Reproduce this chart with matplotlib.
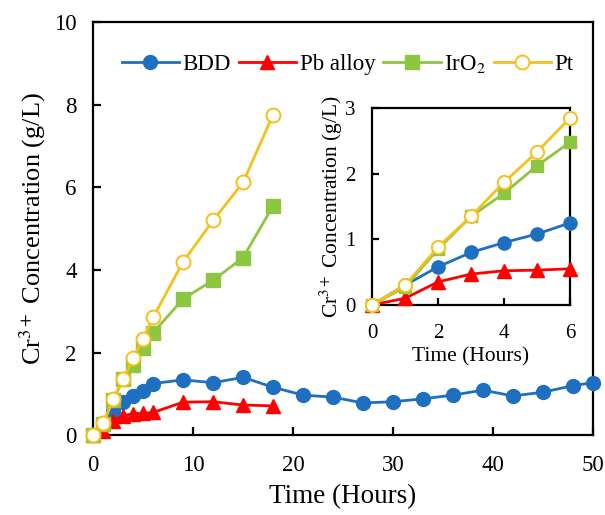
import numpy as np
import matplotlib.pyplot as plt

plt.rcParams['font.family'] = ['Liberation Serif', 'DejaVu Serif']
plt.rcParams['mathtext.fontset'] = 'stix'

# data
t_bdd = [0, 1, 2, 3, 4, 5, 6, 9, 12, 15, 18, 21, 24, 27, 30, 33, 36, 39, 42, 45, 48, 50]
c_bdd = [0, 0.30, 0.58, 0.80, 0.95, 1.08, 1.25, 1.34, 1.27, 1.40, 1.16, 0.97, 0.92,
         0.78, 0.81, 0.88, 0.97, 1.09, 0.95, 1.04, 1.20, 1.27]
t_short = [0, 1, 2, 3, 4, 5, 6, 9, 12, 15, 18]
c_pb = [0, 0.10, 0.35, 0.47, 0.52, 0.53, 0.55, 0.80, 0.81, 0.73, 0.71]
c_iro2 = [0, 0.27, 0.85, 1.35, 1.70, 2.12, 2.48, 3.30, 3.75, 4.30, 5.55]
c_pt = [0, 0.30, 0.88, 1.35, 1.87, 2.33, 2.85, 4.20, 5.20, 6.12, 7.76]

blue = '#1F6FC0'
red = '#FF0000'
green = '#8DC63F'
gold = '#F5C01A'

fig = plt.figure(figsize=(6.05, 5.15), dpi=100)
ax = fig.add_axes([0.154, 0.155, 0.826, 0.802])


def draw(a, n, ms):
    a.plot(t_bdd[:n], c_bdd[:n], '-o', color=blue, lw=2, ms=ms, label='BDD', clip_on=False, zorder=3)
    m = min(n, len(t_short))
    a.plot(t_short[:m], c_pb[:m], '-^', color=red, lw=2, ms=ms, label='Pb alloy', clip_on=False, zorder=3)
    a.plot(t_short[:m], c_iro2[:m], '-s', color=green, lw=2, ms=ms * 0.95, label='IrO$_2$', clip_on=False, zorder=3)
    a.plot(t_short[:m], c_pt[:m], '-o', color=gold, lw=2, ms=ms, mfc='white', mew=1.4,
           label='Pt', clip_on=False, zorder=3)


draw(ax, len(t_bdd), 10)
ax.set_xlim(0, 50)
ax.set_ylim(0, 10)
ax.set_xticks(np.arange(0, 51, 10))
ax.set_yticks(np.arange(0, 11, 2))
ax.tick_params(direction='in', labelsize=16.5, length=6, width=1.6)
ax.tick_params(axis='x', pad=14)
ax.tick_params(axis='y', pad=12)
for s in ax.spines.values():
    s.set_linewidth(1.6)
ax.set_xlabel('Time (Hours)', fontsize=19.5, labelpad=6)
ax.set_ylabel('Cr$^{3+}$ Concentration (g/L)', fontsize=19, labelpad=4)
ax.legend(loc='upper left', bbox_to_anchor=(0.025, 0.965), ncol=4, frameon=False,
          fontsize=16.5, handlelength=2.5, columnspacing=0.35, handletextpad=0.15,
          borderaxespad=0.3)

ins = fig.add_axes([0.615, 0.408, 0.327, 0.382])
draw(ins, 7, 9.5)
ins.set_xlim(0, 6)
ins.set_ylim(0, 3)
ins.set_xticks([0, 2, 4, 6])
ins.set_yticks([0, 1, 2, 3])
ins.tick_params(direction='in', labelsize=15, length=5, width=1.6)
ins.tick_params(axis='x', pad=14)
ins.tick_params(axis='y', pad=12)
for s in ins.spines.values():
    s.set_linewidth(1.6)
ins.set_xlabel('Time (Hours)', fontsize=15.5, labelpad=3)
ins.set_ylabel('Cr$^{3+}$ Concentration (g/L)', fontsize=15.5, labelpad=0)

fig.savefig('out.png', dpi=100)
